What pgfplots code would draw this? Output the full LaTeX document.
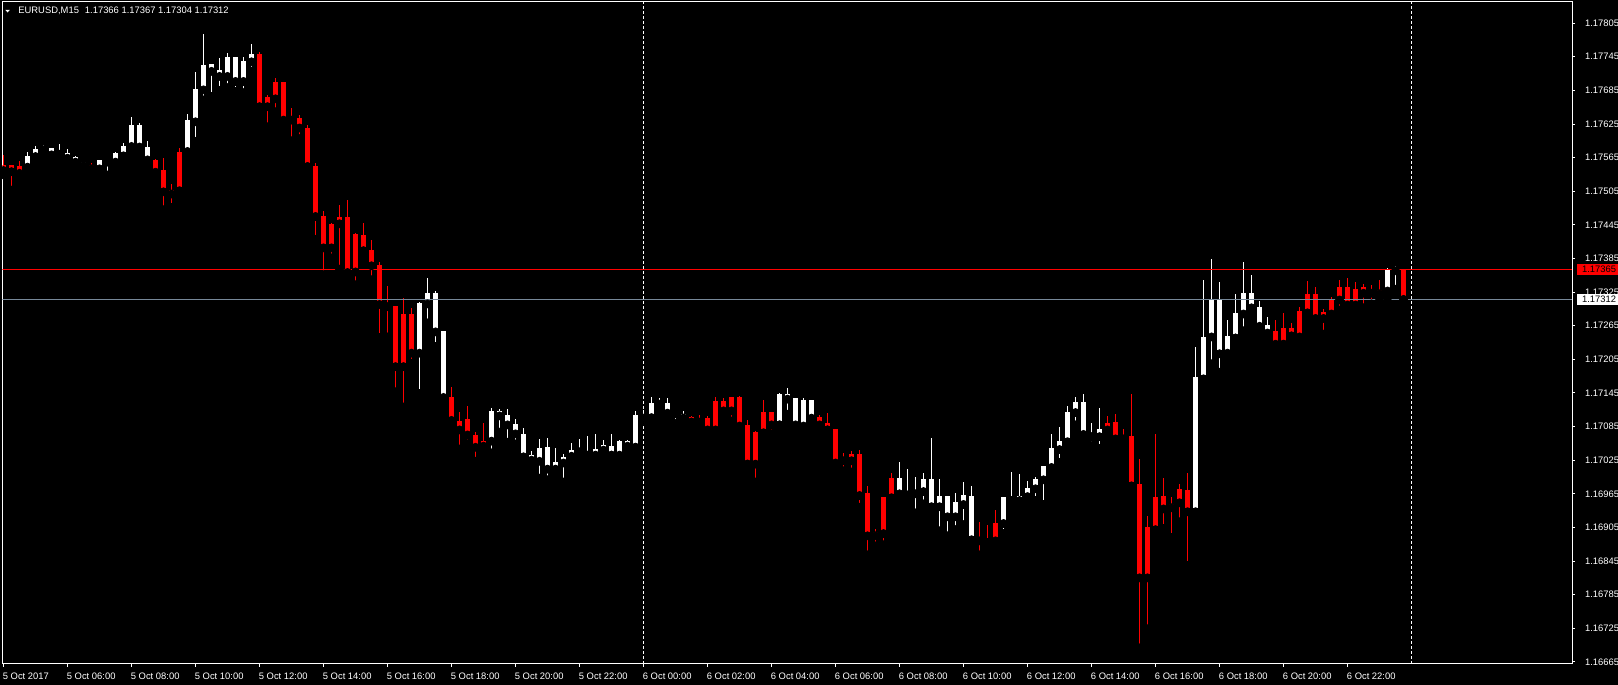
\documentclass[border=0pt]{standalone}
\usepackage{pgfplots}
\pgfplotsset{compat=1.18}
\usepackage{pgfplotstable}
\usepackage{fontspec}
\setmainfont{Liberation Sans}
% prices are stored in points (1e-5) above 1.16000, e.g. 1366 = 1.17366
\pgfplotstableread{
i o h l c
3 1548 1575 1547 1568
4 1567 1586 1552 1580
5 1579 1588 1572 1582
6 1570 1582 1557 1582
7 1571 1589 1567 1574
8 1564 1580 1563 1574
9 1557 1568 1548 1566
10 1551 1559 1547 1557
12 1545 1561 1534 1561
13 1557 1561 1534 1560
14 1557 1575 1550 1574
15 1568 1591 1568 1586
16 1585 1638 1580 1623
17 1584 1626 1582 1623
18 1561 1595 1548 1584
23 1576 1643 1567 1632
24 1629 1718 1594 1688
25 1686 1786 1668 1730
26 1719 1732 1674 1732
27 1710 1743 1685 1722
28 1710 1752 1690 1745
29 1701 1745 1683 1745
30 1701 1745 1681 1738
31 1736 1768 1719 1750
52 1216 1307 1144 1305
53 1304 1350 1270 1323
54 1254 1327 1228 1323
55 1137 1256 1129 1256
61 1059 1118 1038 1113
62 1104 1116 1075 1113
63 1088 1116 1057 1106
64 1072 1098 1054 1090
65 1031 1082 1023 1072
66 1025 1041 1020 1034
67 1023 1063 993 1047
68 1009 1065 990 1048
69 1009 1047 998 1022
70 1020 1036 986 1031
71 1032 1056 1027 1043
72 1040 1063 1027 1043
73 1034 1068 1032 1040
74 1034 1072 1032 1045
75 1043 1061 1029 1052
76 1034 1072 1034 1050
77 1034 1061 1027 1059
78 1050 1061 1036 1059
79 1048 1113 1048 1106
80 1100 1115 1094 1106
81 1101 1138 1090 1127
82 1125 1136 1116 1131
83 1109 1136 1104 1127
84 1108 1113 1091 1111
85 1100 1113 1100 1107
97 1088 1145 1088 1143
98 1134 1154 1107 1143
99 1088 1136 1074 1136
100 1086 1136 1081 1132
101 1100 1132 1093 1132
112 965 1022 962 993
113 963 1009 960 966
114 965 995 931 970
115 969 1002 947 991
116 942 1065 940 991
117 942 991 899 961
118 924 961 890 961
119 924 966 901 950
120 946 986 910 963
121 883 979 869 961
125 912 959 894 959
126 953 1004 942 959
127 953 1000 949 961
128 960 988 954 975
129 974 995 953 991
130 990 1015 946 1015
131 1012 1072 1004 1047
132 1044 1084 1021 1059
133 1058 1122 1044 1111
134 1110 1138 1088 1129
135 1071 1143 1063 1129
136 1067 1091 1051 1073
137 1067 1118 1046 1081
149 933 1227 924 1173
150 1170 1347 1170 1245
151 1245 1384 1197 1311
152 1215 1343 1182 1313
153 1216 1275 1206 1247
154 1243 1322 1243 1288
155 1286 1379 1256 1323
156 1297 1356 1290 1323
157 1264 1309 1252 1298
158 1252 1281 1239 1266
173 1327 1368 1314 1364
174 1363 1372 1330 1364
}\bull
\pgfplotstableread{
i o h l c
0 1552 1570 1534 1542
1 1552 1552 1507 1540
2 1550 1559 1534 1537
11 1552 1555 1542 1545
19 1561 1563 1532 1539
20 1543 1564 1472 1504
21 1507 1518 1476 1500
22 1575 1582 1502 1506
32 1750 1754 1652 1656
33 1673 1677 1620 1656
34 1700 1707 1647 1670
35 1700 1700 1620 1632
36 1638 1654 1595 1632
37 1636 1641 1599 1618
38 1618 1623 1549 1549
39 1550 1555 1419 1460
40 1461 1470 1356 1404
41 1447 1449 1386 1404
42 1459 1480 1366 1447
43 1459 1489 1345 1360
44 1429 1430 1338 1361
45 1427 1448 1390 1399
46 1400 1418 1347 1372
47 1373 1379 1244 1303
48 1302 1335 1245 1299
49 1300 1300 1147 1192
50 1286 1315 1120 1192
51 1286 1297 1198 1216
56 1138 1156 1084 1096
57 1095 1111 1045 1079
58 1098 1122 1054 1070
59 1070 1075 1023 1048
60 1059 1091 1038 1050
86 1102 1104 1093 1093
87 1099 1106 1088 1093
88 1100 1104 1070 1079
89 1131 1138 1065 1079
90 1131 1136 1109 1113
91 1138 1138 1095 1113
92 1138 1140 1074 1086
93 1088 1097 1018 1018
94 1075 1077 986 1018
95 1111 1132 1061 1074
96 1111 1111 1072 1088
102 1102 1106 1081 1088
103 1091 1109 1079 1079
104 1081 1081 1016 1020
105 1026 1038 1006 1024
106 1036 1041 1004 1024
107 1036 1043 941 962
108 966 979 856 890
109 897 902 872 890
110 959 959 874 894
111 993 1002 949 958
122 884 915 856 881
123 884 909 867 878
124 913 936 871 881
138 1091 1104 1072 1079
139 1093 1107 1062 1063
140 1068 1081 1048 1063
141 1068 1143 979 979
142 982 1027 690 815
143 906 925 724 815
144 959 1072 892 901
145 961 993 903 938
146 947 959 887 940
147 973 982 915 949
148 972 1002 837 933
159 1256 1275 1225 1232
160 1261 1288 1232 1232
161 1261 1270 1236 1247
162 1291 1298 1238 1245
163 1322 1345 1287 1288
164 1322 1334 1274 1278
165 1290 1295 1250 1278
166 1311 1316 1281 1286
167 1334 1347 1293 1311
168 1334 1350 1298 1302
169 1330 1343 1297 1302
170 1334 1339 1297 1323
171 1325 1338 1304 1323
172 1329 1347 1313 1322
175 1366 1367 1304 1312
}\bear
\definecolor{bidgrey}{RGB}{119,136,153}
\newcommand{\lblfont}{\fontsize{4.7}{5}\selectfont}
\begin{document}
\begin{tikzpicture}
\path[use as bounding box, fill=black] (0,0) rectangle (809pt,342.5pt);
\begin{axis}[
  at={(1.15pt,10.5pt)}, anchor=south west,
  scale only axis, width=784.85pt, height=331pt,
  xmin=-0.15, xmax=196.06, ymin=661.2, ymax=1842.8,
  axis background/.style={fill=black},
  axis line style={white, line width=0.5pt},
  xtick={0,8,...,168},
  xticklabels={5 Oct 2017,5 Oct 06:00,5 Oct 08:00,5 Oct 10:00,5 Oct 12:00,5 Oct 14:00,5 Oct 16:00,5 Oct 18:00,5 Oct 20:00,5 Oct 22:00,6 Oct 00:00,6 Oct 02:00,6 Oct 04:00,6 Oct 06:00,6 Oct 08:00,6 Oct 10:00,6 Oct 12:00,6 Oct 14:00,6 Oct 16:00,6 Oct 18:00,6 Oct 20:00,6 Oct 22:00},
  ytick={665,725,...,1805},
  yticklabels={1.16665,1.16725,1.16785,1.16845,1.16905,1.16965,1.17025,1.17085,1.17145,1.17205,1.17265,1.17325,1.17385,1.17445,1.17505,1.17565,1.17625,1.17685,1.17745,1.17805},
  xtick pos=bottom, ytick pos=right, yticklabel pos=right,
  tick align=outside, major tick length=1.5pt,
  tick style={white, line width=0.5pt},
  tick label style={font=\lblfont, text=white, inner sep=0pt},
  xticklabel style={anchor=west, xshift=-0.5pt, yshift=-4.75pt},
  yticklabel style={anchor=west, xshift=4.85pt},
]
\addplot[white, line width=0.5pt, dash pattern=on 1.4pt off 1.1pt] coordinates {(80,661.2) (80,1842.8)};
\addplot[white, line width=0.5pt, dash pattern=on 1.4pt off 1.1pt] coordinates {(176,661.2) (176,1842.8)};
% wicks
\addplot[only marks, mark=none, error bars/.cd, y dir=plus, y explicit, error mark=none,
  error bar style={line width=0.55pt, white}]
  table[x=i, y=l, y error expr=\thisrow{h}-\thisrow{l}] {\bull};
\addplot[only marks, mark=none, error bars/.cd, y dir=plus, y explicit, error mark=none,
  error bar style={line width=0.55pt, red}]
  table[x=i, y=l, y error expr=\thisrow{h}-\thisrow{l}] {\bear};
% bodies
\addplot[only marks, mark=none, error bars/.cd, y dir=plus, y explicit, error mark=none,
  error bar style={line width=2.5pt, white}]
  table[x=i, y=o, y error expr=\thisrow{c}-\thisrow{o}] {\bull};
\addplot[only marks, mark=none, error bars/.cd, y dir=plus, y explicit, error mark=none,
  error bar style={line width=2.5pt, red}]
  table[x=i, y=c, y error expr=\thisrow{o}-\thisrow{c}] {\bear};
% ask / bid lines
\addplot[red, line width=0.5pt] coordinates {(-0.15,1365) (196.06,1365)};
\addplot[bidgrey, line width=0.5pt] coordinates {(-0.15,1312) (196.06,1312)};
\coordinate (ask) at (axis cs:196.06,1365);
\coordinate (bid) at (axis cs:196.06,1312);
\end{axis}
\node[anchor=west, fill=red, text=black, font=\lblfont, inner xsep=2.35pt, inner ysep=0pt, minimum height=5.5pt] at ([xshift=2.5pt]ask) {1.17365};
\node[anchor=west, fill=white, text=black, font=\lblfont, inner xsep=2.35pt, inner ysep=0pt, minimum height=5.5pt] at ([xshift=2.5pt]bid) {1.17312};
\fill[white] ([xshift=1.5pt,yshift=-3.9pt]current axis.north west) -- ++(2.3pt,0) -- ++(-1.15pt,-1.35pt) -- cycle;
\node[anchor=west, inner sep=0pt, font=\lblfont, text=white] at ([xshift=7.85pt,yshift=-4.4pt]current axis.north west) {EURUSD,M15\hspace{3pt}1.17366 1.17367 1.17304 1.17312};
\end{tikzpicture}
\end{document}
